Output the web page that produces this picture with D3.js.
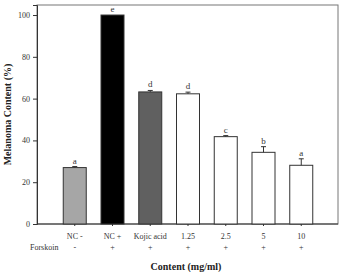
<!DOCTYPE html>
<html><head><meta charset="utf-8">
<script src="https://cdn.jsdelivr.net/npm/d3@7"></script>
<style>body{margin:0;background:#fff}svg{display:block}</style>
</head><body>
<script>
const categories = ["NC -", "NC +", "Kojic acid", "1.25", "2.5", "5", "10"];
const forskolin = ["-", "+", "+", "+", "+", "+", "+"];
const values = [27, 100, 63.2, 62.3, 41.8, 34.3, 28.1];
const errors = [0.5, 0, 0.7, 0.8, 0.5, 2.7, 3.1];
const letters = ["a", "e", "d", "d", "c", "b", "a"];
const fills = ["#a6a6a6", "#000000", "#606060", "#ffffff", "#ffffff", "#ffffff", "#ffffff"];
const yTicks = [0, 20, 40, 60, 80, 100];

const W = 340, H = 272;
const svg = d3.select("body").append("svg").attr("width", W).attr("height", H)
  .style("font-family", "'Liberation Serif', 'Times New Roman', serif");

const pL = 37, pR = 338, pT = 5, pB = 224;
const x = d3.scaleLinear().domain([0, categories.length + 1]).range([pL, pR + 1]);
const y = d3.scaleLinear().domain([0, 104.8]).range([pB, pT]);
const bw = 23;

// frame
svg.append("rect").attr("x", pL).attr("y", pT).attr("width", pR - pL).attr("height", pB - pT)
  .attr("fill", "none").attr("stroke", "#777").attr("stroke-width", 1);

// y axis
const ya = svg.append("g").attr("transform", `translate(${pL},0)`)
  .call(d3.axisLeft(y).tickValues(yTicks).tickSize(4).tickPadding(3));
ya.select(".domain").attr("stroke", "#333");
ya.selectAll("line").attr("stroke", "#333");
ya.selectAll("text").attr("font-size", 8).attr("fill", "#333").attr("font-family", "'Liberation Serif', serif");

// bottom axis line
svg.append("line").attr("x1", pL).attr("x2", pR).attr("y1", pB).attr("y2", pB).attr("stroke", "#333");

const g = svg.append("g");
categories.forEach((c, i) => {
  const cx = x(i + 1);
  const v = values[i], e = errors[i];
  g.append("rect").attr("x", cx - bw / 2).attr("y", y(v)).attr("width", bw).attr("height", y(0) - y(v))
    .attr("fill", fills[i]).attr("stroke", "#333").attr("stroke-width", 1);
  if (e > 0) {
    g.append("line").attr("x1", cx).attr("x2", cx).attr("y1", y(v)).attr("y2", y(v + e)).attr("stroke", "#333");
    g.append("line").attr("x1", cx - 2.5).attr("x2", cx + 2.5).attr("y1", y(v + e)).attr("y2", y(v + e)).attr("stroke", "#333");
  }
  g.append("text").attr("x", cx).attr("y", y(v + e) - 3).attr("text-anchor", "middle")
    .attr("font-size", 9).attr("fill", "#333").text(letters[i]);
  g.append("line").attr("x1", cx).attr("x2", cx).attr("y1", pB).attr("y2", pB + 2).attr("stroke", "#333");
  g.append("text").attr("x", cx).attr("y", 239).attr("text-anchor", "middle")
    .attr("font-size", 8).attr("fill", "#333").text(c);
  g.append("text").attr("x", cx).attr("y", 250).attr("text-anchor", "middle")
    .attr("font-size", 8).attr("fill", "#333").text(forskolin[i]);
});

svg.append("text").attr("x", 30).attr("y", 250).attr("font-size", 8).attr("fill", "#333").text("Forskoin");

svg.append("text").attr("x", 186).attr("y", 270).attr("text-anchor", "middle")
  .attr("font-size", 10).attr("font-weight", "bold").attr("fill", "#222").text("Content (mg/ml)");

svg.append("text").attr("transform", `translate(11,${(pT + pB) / 2}) rotate(-90)`)
  .attr("text-anchor", "middle").attr("font-size", 10).attr("font-weight", "bold").attr("fill", "#222")
  .text("Melanoma Content (%)");
</script>
</body></html>
